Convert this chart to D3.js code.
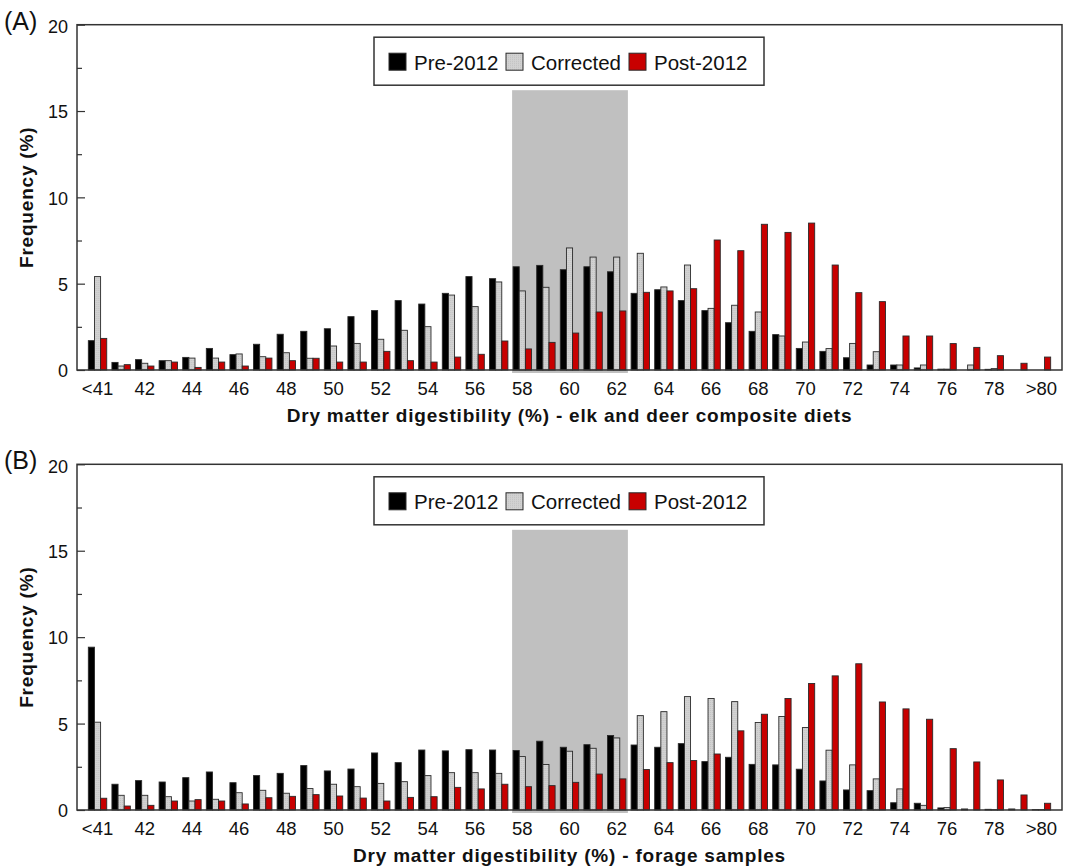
<!DOCTYPE html>
<html>
<head>
<meta charset="utf-8">
<script src="https://cdn.jsdelivr.net/npm/d3@7"></script>
<style>
  body { margin: 0; background: #fff; }
  text { font-family: "Liberation Sans", Arial, sans-serif; fill: #111; }
</style>
</head>
<body>
<div id="chart"></div>
<script>
// categories along x (dry matter digestibility, %)
const categories = ["<41"].concat(d3.range(41, 80).map(String)).concat([">80"]);
const labelCats = categories.filter((d, i) => i % 2 === 0);
const seriesNames = ["Pre-2012", "Corrected", "Post-2012"];
const yTicks = [0, 5, 10, 15, 20];

// (A) elk and deer composite diets
const dietsPre = [1.70,0.44,0.60,0.54,0.73,1.25,0.89,1.49,2.07,2.24,2.39,3.09,3.44,4.02,3.82,4.44,5.41,5.29,5.98,6.06,
  5.81,5.98,5.69,4.44,4.65,4.02,3.44,2.74,2.24,2.05,1.25,1.08,0.71,0.29,0.29,0.12,0.05,0,0.04,0,0];
const dietsCorr = [5.41,0.23,0.39,0.54,0.69,0.69,0.93,0.77,1.00,0.68,1.39,1.54,1.78,2.30,2.51,4.34,3.67,5.10,4.58,4.79,
  7.07,6.54,6.54,6.76,4.81,6.08,3.57,3.75,3.36,1.97,1.62,1.24,1.54,1.06,0.29,0.29,0.05,0.29,0.08,0,0];
const dietsPost = [1.83,0.31,0.23,0.46,0.15,0.46,0.23,0.69,0.54,0.68,0.46,0.46,1.08,0.54,0.46,0.75,0.91,1.68,1.22,1.60,
  2.14,3.36,3.42,4.50,4.58,4.71,7.53,6.91,8.44,7.97,8.51,6.08,4.48,3.96,1.97,1.97,1.53,1.31,0.83,0.39,0.75];

// (B) forage samples
const foragePre = [9.42,1.49,1.70,1.62,1.87,2.20,1.58,1.99,2.12,2.57,2.26,2.37,3.30,2.74,3.47,3.42,3.49,3.47,3.44,3.98,
  3.63,3.78,4.31,3.76,3.63,3.84,2.80,3.05,2.64,2.61,2.36,1.68,1.16,1.12,0.42,0.39,0.12,0.06,0.04,0.06,0.02];
const forageCorr = [5.08,0.85,0.85,0.77,0.52,0.62,1.00,1.14,0.97,1.24,1.49,1.35,1.54,1.64,1.99,2.16,2.16,2.12,3.09,2.63,
  3.40,3.57,4.17,5.46,5.69,6.56,6.45,6.27,5.06,5.41,4.77,3.46,2.61,1.80,1.22,0.27,0.14,0,0.02,0,0.02];
const foragePost = [0.68,0.23,0.27,0.52,0.60,0.52,0.35,0.71,0.79,0.89,0.81,0.69,0.52,0.73,0.77,1.31,1.22,1.49,1.35,1.41,
  1.60,2.08,1.80,2.34,2.74,2.86,3.24,4.58,5.54,6.45,7.32,7.76,8.46,6.25,5.85,5.25,3.55,2.78,1.74,0.87,0.39];

const width = 1067, height = 868;
const left = 77, right = 1062;

const svg = d3.select("#chart").append("svg")
    .attr("width", width)
    .attr("height", height);

// faintly stippled grey fill for the "Corrected" bars
const defs = svg.append("defs");
const pat = defs.append("pattern")
    .attr("id", "stipple")
    .attr("patternUnits", "userSpaceOnUse")
    .attr("width", 2).attr("height", 2);
pat.append("rect").attr("width", 2).attr("height", 2).attr("fill", "#d2d2d2");
pat.append("rect").attr("width", 1).attr("height", 1).attr("fill", "#c2c2c2");

const fills = ["#000000", "url(#stipple)", "#c80000"];

const x = d3.scaleBand()
    .domain(categories)
    .range([left, right])
    .paddingInner(0.22)
    .paddingOuter(0.48);

const xs = d3.scaleBand()
    .domain(seriesNames)
    .range([0, x.bandwidth()]);

function drawPanel(top, bottom, tag, title, pre, corr, post) {
    const g = svg.append("g");
    const y = d3.scaleLinear().domain([0, 20]).range([bottom, top]);

    // shaded window 58-62 %
    g.append("rect")
        .attr("x", x("58") - 1)
        .attr("y", y(20) + 65.5)
        .attr("width", x("62") + x.bandwidth() + 3 - x("58"))
        .attr("height", bottom + 3 - (y(20) + 65.5))
        .attr("fill", "#c0c0c0");

    // bars
    const rows = categories.map((c, i) => ({cat: c, vals: [pre[i], corr[i], post[i]]}));
    const grp = g.append("g").selectAll("g")
        .data(rows)
        .enter().append("g")
        .attr("transform", d => "translate(" + x(d.cat) + ",0)");
    grp.selectAll("rect")
        .data(d => d.vals.map((v, k) => ({v: v, k: k})))
        .enter().append("rect")
        .filter(d => d.v > 0)
        .attr("x", d => xs(seriesNames[d.k]))
        .attr("y", d => y(d.v))
        .attr("width", xs.bandwidth())
        .attr("height", d => bottom - y(d.v))
        .attr("fill", d => fills[d.k])
        .attr("stroke", "#2a2a2a")
        .attr("stroke-width", 0.9);

    // frame
    g.append("rect")
        .attr("x", left).attr("y", top)
        .attr("width", right - left).attr("height", bottom - top)
        .attr("fill", "none")
        .attr("stroke", "#333")
        .attr("stroke-width", 1.5);

    // y axis: inward ticks
    const yAxis = d3.axisRight(y).tickValues(yTicks).tickSize(8).tickFormat("");
    g.append("g").attr("transform", "translate(" + left + ",0)").call(yAxis)
        .call(s => s.select(".domain").remove())
        .call(s => s.selectAll("line").attr("stroke", "#333").attr("stroke-width", 1.2));
    const yMinor = d3.axisRight(y).tickValues([2.5, 7.5, 12.5, 17.5]).tickSize(5).tickFormat("");
    g.append("g").attr("transform", "translate(" + left + ",0)").call(yMinor)
        .call(s => s.select(".domain").remove())
        .call(s => s.selectAll("line").attr("stroke", "#333").attr("stroke-width", 1.2));

    g.selectAll(".ylab")
        .data(yTicks)
        .enter().append("text")
        .attr("x", left - 9)
        .attr("y", d => y(d) + (d === 20 ? 8.5 : 7.2))
        .attr("text-anchor", "end")
        .style("font-size", "18px")
        .text(d => d);

    // x labels
    g.selectAll(".xlab")
        .data(labelCats)
        .enter().append("text")
        .attr("x", d => x(d) + x.bandwidth() / 2)
        .attr("y", bottom + 25)
        .attr("text-anchor", "middle")
        .style("font-size", "18.5px")
        .text(d => d);

    // axis titles
    g.append("text")
        .attr("transform", "translate(33," + (top + bottom) / 2 + ") rotate(-90)")
        .attr("text-anchor", "middle")
        .style("font-size", "19px")
        .style("font-weight", "bold")
        .style("letter-spacing", "0.8px")
        .text("Frequency (%)");

    g.append("text")
        .attr("x", (left + right) / 2)
        .attr("y", bottom + 51.5)
        .attr("text-anchor", "middle")
        .style("font-size", "19px")
        .style("font-weight", "bold")
        .style("letter-spacing", "0.8px")
        .text(title);

    // panel tag
    g.append("text")
        .attr("x", 4)
        .attr("y", top + 5)
        .style("font-size", "25px")
        .text(tag);

    // legend
    const lg = g.append("g").attr("transform", "translate(374," + (top + 12.5) + ")");
    lg.append("rect")
        .attr("width", 390).attr("height", 48)
        .attr("fill", "#fff")
        .attr("stroke", "#333")
        .attr("stroke-width", 1.5);
    const itemX = [15, 132, 255];
    seriesNames.forEach((s, k) => {
        lg.append("rect")
            .attr("x", itemX[k]).attr("y", 16)
            .attr("width", 17).attr("height", 17)
            .attr("fill", fills[k])
            .attr("stroke", "#2a2a2a")
            .attr("stroke-width", 1);
        lg.append("text")
            .attr("x", itemX[k] + 25)
            .attr("y", 32.5)
            .style("font-size", "20.5px")
            .text(s);
    });
}

drawPanel(24.7, 370, "(A)", "Dry matter digestibility (%) - elk and deer composite diets", dietsPre, dietsCorr, dietsPost);
drawPanel(464.3, 810, "(B)", "Dry matter digestibility (%) - forage samples", foragePre, forageCorr, foragePost);
</script>
</body>
</html>
